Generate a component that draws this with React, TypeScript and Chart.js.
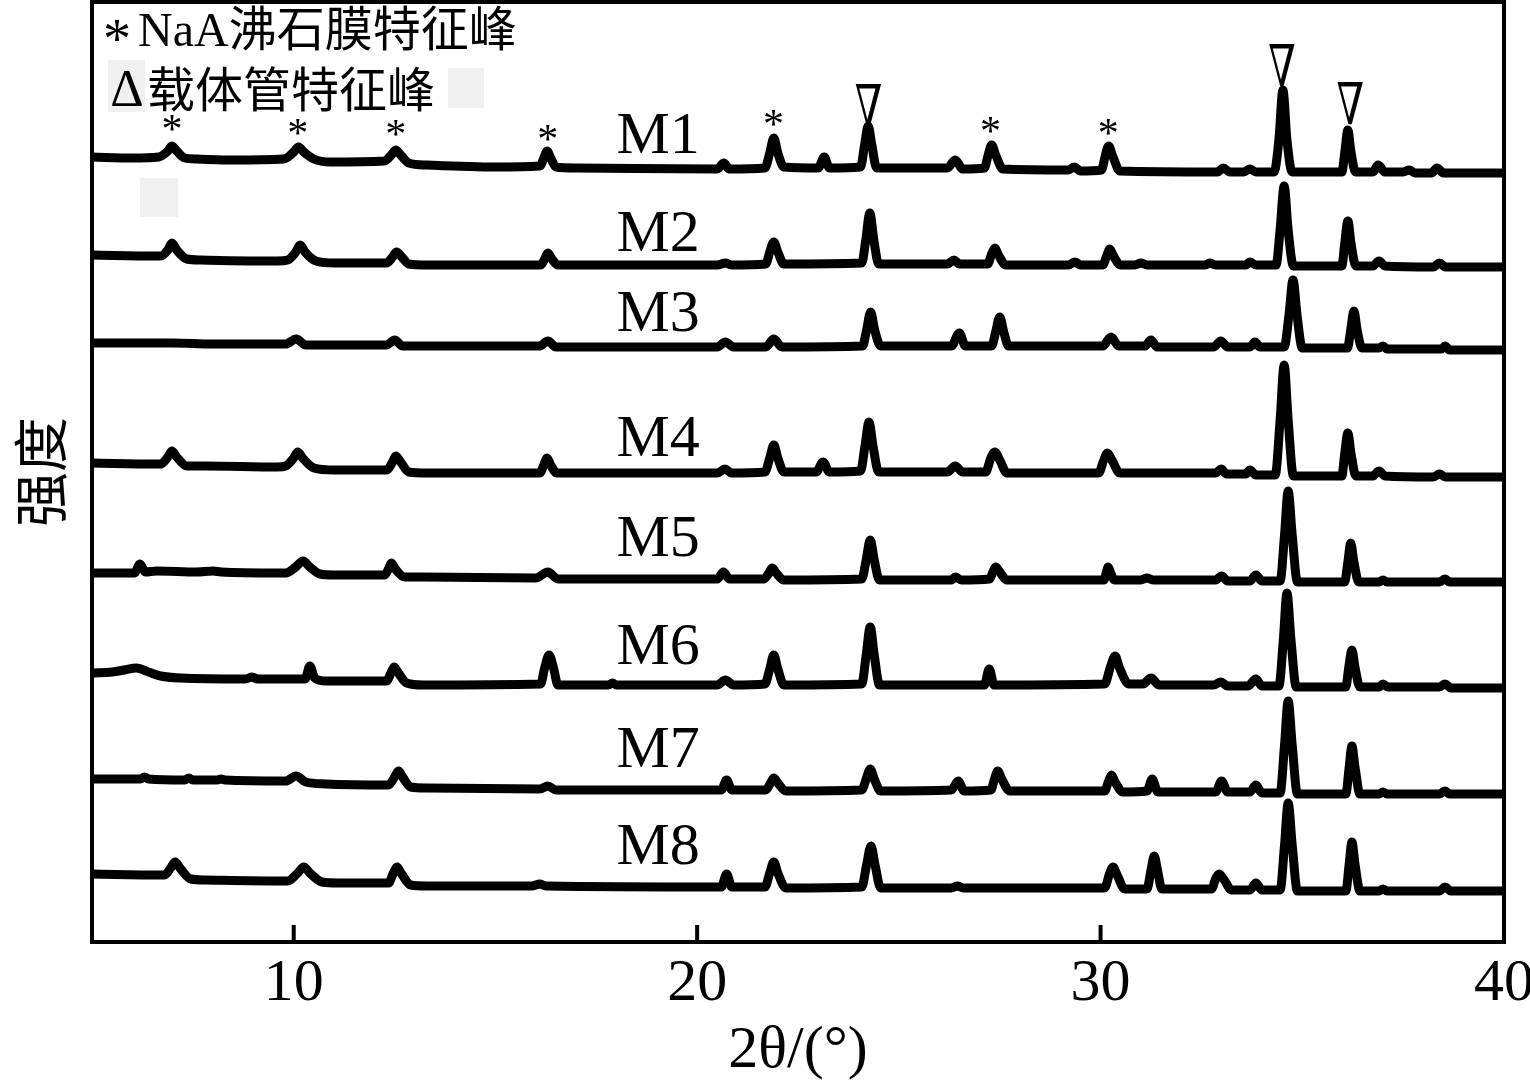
import React, { useEffect, useRef } from 'react';
import { Chart, registerables } from 'chart.js';

Chart.register(...registerables);

type Pt = [number, number];

// ---------- axis values ----------
const X_MIN = 5;
const X_MAX = 40;
const X_TICKS = [10, 20, 30, 40];
const Y_MIN = -2;
const Y_MAX = 938;
const X_TITLE = '2θ/(°)';
const Y_TITLE = '强度';

// ---------- samples (stacked XRD traces, arbitrary intensity units) ----------
const SAMPLE_NAMES = ['M1', 'M2', 'M3', 'M4', 'M5', 'M6', 'M7', 'M8'];
const SAMPLE_LABEL_X = 18.0;
const SAMPLE_LABEL_Y = [807, 709, 628, 504, 403, 295, 193, 95];

const M1: Pt[] = [
  [5.0, 783], [6.0, 782], [6.65, 783], [6.88, 789], [6.98, 794], [7.1, 789], [7.3, 782], [7.6, 781],
  [8.5, 780], [9.75, 781], [10.0, 788], [10.12, 793], [10.25, 788], [10.5, 781], [10.9, 778],
  [12.25, 779], [12.42, 785], [12.53, 790], [12.65, 785], [12.85, 777], [13.3, 775],
  [15.0, 773], [16.1, 774], [16.2, 782], [16.28, 789], [16.37, 782], [16.5, 773], [17.0, 772],
  [20.5, 771], [20.66, 777], [20.8, 771],
  [21.68, 772], [21.8, 787], [21.9, 802], [22.0, 787], [22.15, 773],
  [23.0, 772], [23.15, 783], [23.28, 772],
  [24.05, 773], [24.15, 795], [24.24, 814], [24.33, 795], [24.45, 772],
  [26.2, 772], [26.4, 780], [26.58, 771],
  [27.12, 772], [27.22, 786], [27.3, 795], [27.4, 785], [27.58, 771],
  [29.2, 770], [29.35, 773], [29.5, 769],
  [30.02, 770], [30.12, 785], [30.2, 794], [30.3, 784], [30.48, 769],
  [32.9, 768], [33.04, 772], [33.2, 768], [33.55, 768], [33.7, 771], [33.85, 768],
  [34.3, 768], [34.42, 800], [34.52, 850], [34.62, 800], [34.75, 768],
  [35.98, 768], [36.06, 790], [36.13, 810], [36.2, 790], [36.32, 768],
  [36.75, 768], [36.88, 775], [37.05, 768],
  [37.5, 768], [37.65, 770], [37.8, 767],
  [38.2, 767], [38.34, 772], [38.5, 767], [40.0, 767],
];

const M2: Pt[] = [
  [5.0, 685], [6.6, 684], [6.7, 684], [6.88, 690], [6.98, 697], [7.1, 690], [7.35, 681], [7.7, 680],
  [9.6, 679], [9.85, 680], [10.05, 688], [10.16, 695], [10.28, 688], [10.55, 679], [11.0, 677],
  [12.3, 677], [12.45, 683], [12.55, 688], [12.68, 683], [12.85, 676], [13.3, 675],
  [16.12, 675], [16.22, 681], [16.3, 687], [16.4, 681], [16.55, 675],
  [20.5, 675], [20.7, 677], [20.85, 675],
  [21.7, 676], [21.8, 688], [21.9, 698], [22.0, 688], [22.15, 676],
  [24.08, 677], [24.18, 700], [24.28, 727], [24.38, 700], [24.5, 676],
  [26.2, 676], [26.37, 680], [26.5, 676],
  [27.2, 676], [27.3, 686], [27.38, 692], [27.47, 685], [27.65, 675],
  [29.2, 675], [29.37, 678], [29.5, 675],
  [30.05, 675], [30.15, 684], [30.23, 691], [30.32, 684], [30.5, 675],
  [30.85, 675], [31.0, 677], [31.15, 675],
  [32.6, 675], [32.7, 677], [32.85, 675], [33.6, 675], [33.7, 678], [33.85, 675],
  [34.35, 675], [34.45, 710], [34.55, 754], [34.65, 710], [34.78, 674],
  [35.98, 674], [36.05, 696], [36.13, 719], [36.21, 696], [36.33, 674],
  [36.75, 674], [36.9, 679], [37.05, 674],
  [38.25, 673], [38.4, 677], [38.55, 673], [40.0, 673],
];

const M3: Pt[] = [
  [5.0, 597], [7.0, 597], [8.0, 596], [9.8, 596], [10.06, 601], [10.3, 595],
  [12.3, 595], [12.5, 600], [12.7, 594],
  [16.1, 594], [16.3, 599], [16.5, 593],
  [20.5, 593], [20.7, 598], [20.9, 593],
  [21.7, 593], [21.9, 601], [22.1, 593],
  [24.1, 594], [24.2, 610], [24.3, 628], [24.4, 610], [24.55, 594],
  [26.3, 594], [26.5, 607], [26.65, 594],
  [27.3, 594], [27.4, 608], [27.5, 623], [27.6, 608], [27.72, 594],
  [30.05, 594], [30.26, 603], [30.45, 594],
  [31.1, 594], [31.25, 600], [31.4, 593],
  [32.8, 593], [32.98, 599], [33.15, 593],
  [33.7, 593], [33.83, 598], [33.95, 593],
  [34.55, 593], [34.67, 625], [34.77, 660], [34.87, 625], [35.0, 592],
  [36.12, 592], [36.2, 610], [36.28, 629], [36.36, 610], [36.48, 592],
  [36.9, 592], [37.0, 594], [37.1, 591],
  [38.45, 591], [38.54, 594], [38.65, 590], [40.0, 590],
];

const M4: Pt[] = [
  [5.0, 477], [6.6, 476], [6.7, 476], [6.88, 483], [6.98, 489], [7.1, 483], [7.35, 474], [7.8, 474],
  [9.6, 473], [9.8, 474], [10.0, 482], [10.1, 488], [10.22, 482], [10.5, 472], [11.0, 470],
  [12.3, 470], [12.45, 478], [12.53, 484], [12.65, 478], [12.85, 468], [13.3, 467],
  [16.1, 467], [16.2, 475], [16.28, 482], [16.37, 475], [16.52, 467],
  [20.5, 467], [20.69, 471], [20.85, 467],
  [21.68, 468], [21.8, 482], [21.9, 495], [22.0, 482], [22.15, 468],
  [22.95, 468], [23.12, 478], [23.28, 468],
  [24.05, 469], [24.16, 494], [24.26, 518], [24.36, 494], [24.5, 468],
  [26.2, 468], [26.4, 474], [26.58, 468],
  [27.15, 468], [27.28, 482], [27.38, 488], [27.5, 480], [27.68, 467],
  [29.95, 467], [30.08, 480], [30.17, 487], [30.28, 480], [30.48, 467],
  [32.85, 467], [32.99, 471], [33.12, 466], [33.6, 466], [33.7, 470], [33.85, 465],
  [34.33, 465], [34.45, 520], [34.55, 575], [34.65, 520], [34.78, 464],
  [35.98, 464], [36.05, 486], [36.13, 507], [36.21, 486], [36.33, 464],
  [36.75, 464], [36.9, 469], [37.05, 464],
  [38.25, 463], [38.4, 466], [38.55, 463], [40.0, 463],
];

const M5: Pt[] = [
  [5.0, 367], [5.9, 367], [6.05, 367], [6.19, 376], [6.32, 368], [6.6, 369],
  [7.6, 368], [8.0, 369], [8.2, 368],
  [9.6, 367], [9.8, 367], [10.05, 373], [10.23, 379], [10.4, 373], [10.65, 366], [11.0, 365],
  [12.25, 365], [12.35, 371], [12.42, 377], [12.52, 371], [12.75, 363], [13.2, 363],
  [16.0, 362], [16.3, 368], [16.55, 361],
  [20.5, 361], [20.65, 368], [20.8, 361],
  [21.65, 361], [21.78, 367], [21.86, 372], [21.96, 367], [22.15, 360],
  [24.08, 361], [24.19, 380], [24.29, 400], [24.39, 380], [24.52, 360],
  [26.3, 360], [26.4, 363], [26.55, 360],
  [27.25, 361], [27.33, 368], [27.4, 373], [27.5, 368], [27.68, 360],
  [30.08, 360], [30.14, 367], [30.19, 373], [30.25, 367], [30.35, 360],
  [31.0, 360], [31.15, 362], [31.3, 360],
  [32.85, 360], [33.0, 364], [33.15, 359],
  [33.7, 359], [33.85, 365], [34.0, 359],
  [34.45, 359], [34.56, 405], [34.65, 449], [34.75, 405], [34.88, 358],
  [36.05, 358], [36.13, 378], [36.2, 397], [36.28, 378], [36.4, 358],
  [36.9, 358], [37.0, 360], [37.1, 358],
  [38.4, 358], [38.54, 361], [38.65, 358], [40.0, 358],
];

const M6: Pt[] = [
  [5.0, 267], [5.5, 268], [5.8, 270], [6.1, 272], [6.4, 268], [6.7, 264], [7.2, 262],
  [8.8, 261], [8.97, 263], [9.1, 261],
  [10.28, 261], [10.4, 274], [10.52, 262], [10.8, 259],
  [12.3, 259], [12.42, 268], [12.49, 273], [12.58, 268], [12.8, 257], [13.2, 255],
  [16.12, 256], [16.22, 272], [16.33, 285], [16.44, 272], [16.55, 255],
  [17.8, 255], [17.9, 257], [18.0, 255],
  [20.5, 255], [20.7, 260], [20.9, 255],
  [21.68, 256], [21.8, 271], [21.9, 285], [22.0, 271], [22.15, 255],
  [24.08, 256], [24.19, 285], [24.29, 313], [24.39, 285], [24.52, 255],
  [27.12, 255], [27.24, 271], [27.36, 255],
  [30.1, 256], [30.25, 274], [30.36, 284], [30.47, 272], [30.7, 256],
  [31.05, 256], [31.25, 262], [31.45, 255],
  [32.8, 255], [32.98, 258], [33.15, 254],
  [33.65, 254], [33.85, 261], [34.0, 254],
  [34.42, 254], [34.53, 300], [34.62, 347], [34.72, 300], [34.85, 253],
  [36.08, 253], [36.15, 272], [36.23, 290], [36.31, 272], [36.43, 253],
  [36.9, 253], [37.0, 256], [37.12, 253],
  [38.4, 253], [38.54, 256], [38.68, 252], [40.0, 252],
];

const M7: Pt[] = [
  [5.0, 161], [6.2, 161], [6.3, 163], [6.4, 161], [7.3, 160], [7.4, 162], [7.5, 160],
  [8.1, 160], [8.2, 161], [8.3, 160],
  [9.8, 159], [10.06, 164], [10.3, 158], [10.8, 156],
  [12.35, 155], [12.5, 163], [12.6, 169], [12.7, 163], [12.9, 153], [13.3, 152],
  [16.1, 151], [16.3, 154], [16.5, 150],
  [20.6, 150], [20.73, 160], [20.86, 150],
  [21.7, 150], [21.82, 157], [21.9, 162], [22.0, 157], [22.2, 149],
  [24.08, 150], [24.19, 161], [24.29, 171], [24.39, 161], [24.55, 149],
  [26.3, 150], [26.47, 159], [26.62, 149],
  [27.28, 150], [27.37, 161], [27.45, 169], [27.55, 161], [27.75, 149],
  [30.1, 149], [30.2, 159], [30.27, 165], [30.36, 158], [30.55, 148],
  [31.15, 149], [31.28, 161], [31.42, 148],
  [32.85, 148], [33.0, 159], [33.15, 148],
  [33.7, 148], [33.85, 155], [34.0, 147],
  [34.45, 147], [34.56, 195], [34.65, 239], [34.75, 195], [34.88, 146],
  [36.08, 146], [36.16, 172], [36.23, 194], [36.31, 172], [36.43, 146],
  [36.9, 146], [37.0, 148], [37.1, 146],
  [38.4, 146], [38.54, 149], [38.65, 146], [40.0, 146],
];

const M8: Pt[] = [
  [5.0, 66], [6.7, 65], [6.8, 65], [6.95, 72], [7.06, 78], [7.18, 72], [7.45, 61], [7.8, 60],
  [9.7, 59], [9.85, 59], [10.1, 67], [10.25, 73], [10.4, 67], [10.7, 58], [11.1, 57],
  [12.35, 57], [12.47, 67], [12.56, 73], [12.66, 67], [12.9, 55], [13.3, 54],
  [15.9, 54], [16.1, 56], [16.25, 54],
  [20.6, 53], [20.73, 66], [20.86, 53],
  [21.68, 53], [21.8, 67], [21.9, 78], [22.0, 67], [22.2, 52],
  [24.08, 53], [24.2, 75], [24.31, 94], [24.41, 75], [24.55, 52],
  [26.3, 52], [26.45, 54], [26.6, 52],
  [30.1, 52], [30.22, 66], [30.31, 73], [30.4, 66], [30.6, 51],
  [31.15, 51], [31.25, 70], [31.33, 84], [31.41, 70], [31.52, 51],
  [32.75, 51], [32.86, 62], [32.94, 66], [33.05, 61], [33.25, 50],
  [33.7, 50], [33.85, 57], [34.0, 50],
  [34.45, 50], [34.56, 95], [34.65, 137], [34.75, 95], [34.88, 49],
  [36.08, 49], [36.16, 75], [36.23, 98], [36.31, 75], [36.43, 49],
  [36.9, 49], [37.0, 51], [37.1, 49],
  [38.4, 49], [38.54, 53], [38.68, 49], [40.0, 49],
];

const SERIES: Pt[][] = [M1, M2, M3, M4, M5, M6, M7, M8];

// ---------- peak marks above M1 ----------
const ZEOLITE_MARK = '*';
const ZEOLITE_MARKS: Pt[] = [
  [6.98, 817], [10.1, 813], [12.53, 812], [16.3, 807], [21.89, 822], [27.27, 815], [30.19, 813],
];
const SUPPORT_MARK = '∇';
const SUPPORT_MARKS: Pt[] = [[24.25, 835], [34.5, 875], [36.19, 837]];

// ---------- legend text ----------
const LEGEND_ZEOLITE = 'NaA沸石膜特征峰';
const LEGEND_SUPPORT_SYMBOL = 'Δ';
const LEGEND_SUPPORT = '载体管特征峰';

const SERIF = "'Liberation Serif', 'Times New Roman', serif";
const MIXED = "'Liberation Serif', 'Noto Sans CJK SC', serif";
const CJK = "'Noto Sans CJK SC', sans-serif";

function drawGlyph(
  ctx: CanvasRenderingContext2D,
  text: string,
  x: number,
  y: number,
  font: string,
  align: CanvasTextAlign = 'center',
  sx = 1,
) {
  ctx.save();
  ctx.font = font;
  ctx.textAlign = align;
  ctx.textBaseline = 'alphabetic';
  const m = ctx.measureText(text);
  const dy = (m.actualBoundingBoxAscent - m.actualBoundingBoxDescent) / 2;
  ctx.translate(x, y + dy);
  ctx.scale(sx, 1);
  ctx.fillStyle = '#000';
  ctx.fillText(text, 0, 0);
  ctx.restore();
}

const overlayPlugin = {
  id: 'xrdOverlay',
  beforeDatasetsDraw(chart: any) {
    const ctx: CanvasRenderingContext2D = chart.ctx;
    ctx.save();
    ctx.fillStyle = '#f0f0f0';
    ctx.fillRect(108, 60, 37, 52);
    ctx.fillRect(448, 68, 36, 40);
    ctx.fillRect(140, 178, 38, 39);
    ctx.restore();
  },
  afterDraw(chart: any) {
    const ctx: CanvasRenderingContext2D = chart.ctx;
    const a = chart.chartArea;
    const xs = chart.scales.x;
    const ys = chart.scales.y;
    ctx.save();
    // frame
    ctx.strokeStyle = '#000';
    ctx.lineWidth = 4;
    ctx.strokeRect(a.left, a.top, a.right - a.left, a.bottom - a.top);
    // inward tick marks
    ctx.beginPath();
    for (const t of xs.ticks) {
      const px = xs.getPixelForValue(t.value);
      if (px > a.left + 3 && px < a.right - 3) {
        ctx.moveTo(px, a.bottom);
        ctx.lineTo(px, a.bottom - 17);
      }
    }
    ctx.stroke();
    ctx.restore();

    // sample names
    SAMPLE_NAMES.forEach((name, i) => {
      drawGlyph(ctx, name, xs.getPixelForValue(SAMPLE_LABEL_X), ys.getPixelForValue(SAMPLE_LABEL_Y[i]), `60px ${SERIF}`, 'left');
    });
    // peak marks
    ZEOLITE_MARKS.forEach(([x, y]) => {
      drawGlyph(ctx, ZEOLITE_MARK, xs.getPixelForValue(x), ys.getPixelForValue(y), `42px ${SERIF}`);
    });
    SUPPORT_MARKS.forEach(([x, y]) => {
      drawGlyph(ctx, SUPPORT_MARK, xs.getPixelForValue(x), ys.getPixelForValue(y), "58px 'DejaVu Serif', 'DejaVu Sans', serif", 'center', 0.68);
    });

    // legend block (top-left)
    drawGlyph(ctx, ZEOLITE_MARK, 117, 31, `56px ${SERIF}`);
    ctx.save();
    ctx.fillStyle = '#000';
    ctx.font = `48px ${MIXED}`;
    ctx.textAlign = 'left';
    ctx.textBaseline = 'middle';
    ctx.fillText(LEGEND_ZEOLITE, 138, 33);
    ctx.restore();
    drawGlyph(ctx, LEGEND_SUPPORT_SYMBOL, 127, 88, `52px ${SERIF}`);
    ctx.save();
    ctx.fillStyle = '#000';
    ctx.font = `48px ${CJK}`;
    ctx.textAlign = 'left';
    ctx.textBaseline = 'middle';
    ctx.fillText(LEGEND_SUPPORT, 147, 89);
    ctx.restore();
  },
};

export default function App() {
  const canvasRef = useRef<HTMLCanvasElement | null>(null);

  useEffect(() => {
    const canvas = canvasRef.current;
    if (!canvas) return;
    const chart = new Chart(canvas, {
      type: 'line',
      data: {
        datasets: SERIES.map((pts, i) => ({
          label: SAMPLE_NAMES[i],
          data: pts.map(([x, y]) => ({ x, y })),
          borderColor: '#000',
          backgroundColor: '#000',
          borderWidth: 9,
          pointRadius: 0,
          cubicInterpolationMode: 'monotone' as const,
          fill: false,
          borderJoinStyle: 'round' as const,
          borderCapStyle: 'round' as const,
        })),
      },
      options: {
        responsive: false,
        animation: false,
        devicePixelRatio: 1,
        events: [],
        layout: { padding: { top: 2, right: 26, left: 0, bottom: 0 } },
        plugins: {
          legend: { display: false },
          tooltip: { enabled: false },
        },
        scales: {
          x: {
            type: 'linear',
            min: X_MIN,
            max: X_MAX,
            afterBuildTicks: (scale: any) => {
              scale.ticks = X_TICKS.map((v) => ({ value: v }));
            },
            afterFit: (scale: any) => {
              scale.height = 142;
              scale.paddingLeft = 0;
              scale.paddingRight = 0;
            },
            grid: { display: false, drawTicks: false },
            border: { display: false },
            ticks: {
              color: '#000',
              padding: 6,
              maxRotation: 0,
              autoSkip: false,
              font: { family: SERIF, size: 60 },
            },
            title: {
              display: true,
              text: X_TITLE,
              color: '#000',
              font: { family: SERIF, size: 60, lineHeight: 1.1 },
              padding: { top: 0, bottom: 0 },
            },
          },
          y: {
            type: 'linear',
            min: Y_MIN,
            max: Y_MAX,
            afterFit: (scale: any) => {
              scale.width = 92;
              scale.paddingTop = 0;
              scale.paddingBottom = 0;
            },
            grid: { display: false, drawTicks: false },
            border: { display: false },
            ticks: { display: false },
            title: {
              display: true,
              text: Y_TITLE,
              color: '#000',
              font: { family: CJK, size: 55 },
              padding: { top: 7, bottom: 0 },
            },
          },
        },
      },
      plugins: [overlayPlugin],
    } as any);
    return () => chart.destroy();
  }, []);

  return (
    <div style={{ position: 'absolute', left: 0, top: 0, width: 1530, height: 1084, background: '#fff' }}>
      <canvas ref={canvasRef} width={1530} height={1084} style={{ display: 'block', width: 1530, height: 1084 }} />
    </div>
  );
}
